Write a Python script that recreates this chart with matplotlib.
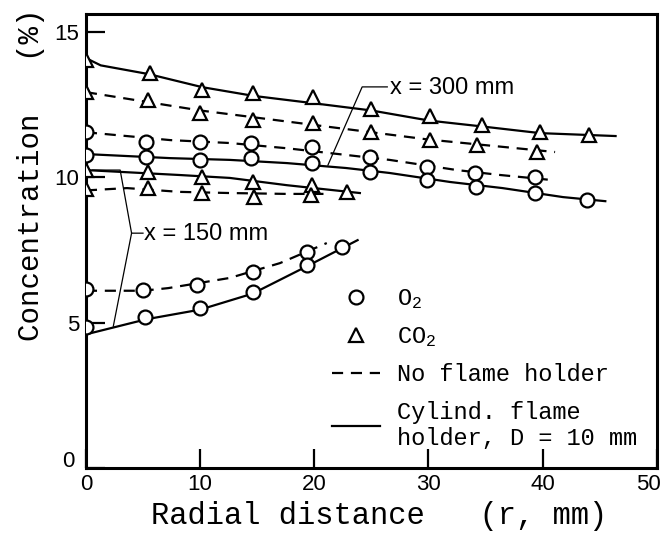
# Radial concentration profiles (O2 / CO2) with and without flame holder

import matplotlib
matplotlib.use( 'Agg' )
import matplotlib.pyplot as plt
import matplotlib.transforms as mtransforms
from matplotlib.lines import Line2D

# Data #
## CO2, cylindrical flame holder, upper ##
co2_cyl_a_r = [ 0, 5.6, 10.2, 14.6, 19.9, 25.0, 30.1, 34.7, 39.8, 44.1 ]
co2_cyl_a_c = [ 14.05, 13.6, 13.0, 12.9, 12.75, 12.35, 12.1, 11.8, 11.55, 11.45 ]
co2_cyl_a_line_r = [ 0, 1.3, 5.5, 10.2, 14.7, 19.9, 25.0, 30.1, 34.7, 39.8, 46.4 ]
co2_cyl_a_line_c = [ 14.1, 13.85, 13.55, 13.1, 12.8, 12.55, 12.3, 11.95, 11.75, 11.52, 11.42 ]

## CO2, no flame holder, upper ##
co2_nofh_a_r = [ 0, 5.4, 10.0, 14.6, 19.9, 25.0, 30.1, 34.3, 39.5 ]
co2_nofh_a_c = [ 12.93, 12.66, 12.21, 11.97, 11.87, 11.56, 11.28, 11.11, 10.87 ]
co2_nofh_a_line_r = [ 0, 10, 20, 30, 41.1 ]
co2_nofh_a_line_c = [ 12.93, 12.3, 11.8, 11.3, 10.87 ]

## O2, no flame holder, upper ##
o2_nofh_a_r = [ 0, 5.3, 10.0, 14.5, 19.8, 24.9, 29.9, 34.1, 39.3 ]
o2_nofh_a_c = [ 11.56, 11.21, 11.21, 11.18, 11.04, 10.7, 10.35, 10.15, 10.01 ]
o2_nofh_a_line_r = [ 0, 7.4, 12.6, 17.6, 22.8, 26.6, 32.5, 36.3, 41.0 ]
o2_nofh_a_line_c = [ 11.55, 11.28, 11.18, 11.0, 10.77, 10.6, 10.25, 10.08, 9.9 ]

## O2, cylindrical flame holder, upper ##
o2_cyl_a_r = [ 0, 5.3, 10.0, 14.5, 19.8, 24.9, 29.9, 34.2, 39.3, 43.9 ]
o2_cyl_a_c = [ 10.77, 10.7, 10.6, 10.66, 10.49, 10.18, 9.91, 9.67, 9.46, 9.22 ]
o2_cyl_a_line_r = [ 0, 7.4, 12.6, 17.6, 22.8, 26.6, 31.9, 36.5, 41.8, 45.5 ]
o2_cyl_a_line_c = [ 10.8, 10.66, 10.6, 10.49, 10.32, 10.15, 9.84, 9.63, 9.32, 9.18 ]

## CO2, cylindrical flame holder, lower ##
co2_cyl_b_r = [ 0, 5.4, 10.2, 14.6, 19.8, 22.9 ]
co2_cyl_b_c = [ 10.25, 10.18, 10.01, 9.84, 9.73, 9.49 ]
co2_cyl_b_line_r = [ 0, 8.2, 12.6, 17.6, 24.0 ]
co2_cyl_b_line_c = [ 10.25, 10.08, 9.98, 9.73, 9.46 ]

## CO2, no flame holder, lower ##
co2_nofh_b_r = [ 0, 5.4, 10.2, 14.7, 19.7 ]
co2_nofh_b_c = [ 9.6, 9.63, 9.46, 9.32, 9.39 ]
co2_nofh_b_line_r = [ 0, 3.6, 8.2, 12.6, 17.6, 21.0 ]
co2_nofh_b_line_c = [ 9.55, 9.63, 9.5, 9.46, 9.43, 9.43 ]

## O2, no flame holder, lower ##
o2_nofh_b_r = [ 0, 5.0, 9.7, 14.6, 19.4 ]
o2_nofh_b_c = [ 6.15, 6.12, 6.3, 6.74, 7.43 ]
o2_nofh_b_line_r = [ 0, 5.0, 7.2, 12.6, 17.0, 21.1 ]
o2_nofh_b_line_c = [ 6.1, 6.1, 6.19, 6.54, 7.05, 7.74 ]

## O2, cylindrical flame holder, lower ##
o2_cyl_b_r = [ 0, 5.2, 10.0, 14.6, 19.4, 22.4 ]
o2_cyl_b_c = [ 4.85, 5.19, 5.5, 6.05, 6.98, 7.6 ]
o2_cyl_b_line_r = [ 0, 5.3, 10.0, 14.6, 19.4, 23.8 ]
o2_cyl_b_line_c = [ 4.6, 5.12, 5.45, 6.0, 6.95, 7.84 ]

## Bracket annotations ##
bracket_300_r = [ 26.4, 24.2, 21.2 ]
bracket_300_c = [ 13.11, 13.11, 10.42 ]
bracket_150_up_r = [ 5.0, 4.0, 3.0, 0.6 ]
bracket_150_up_c = [ 8.08, 8.08, 10.25, 10.25 ]
bracket_150_dn_r = [ 4.0, 2.4 ]
bracket_150_dn_c = [ 8.08, 4.88 ]

x_ticks = [ 0, 10, 20, 30, 40, 50 ]
y_ticks = [ 0, 5, 10, 15 ]

# Style #
MONO = 'Liberation Mono'
SANS = 'Liberation Sans'
plt.rcParams[ 'mathtext.fontset' ] = 'custom'
plt.rcParams[ 'mathtext.rm' ] = MONO
plt.rcParams[ 'mathtext.it' ] = MONO

solid = '-'
dashed = ( 0, ( 5, 3.5 ) )
lw = 1.6
ms = 10
mew = 1.6

fig = plt.figure( figsize = ( 6.66, 5.35 ), dpi = 100 )
ax = fig.add_axes( [ 0.129, 0.125, 0.857, 0.849 ] )

series = [
	( co2_cyl_a_r, co2_cyl_a_c, co2_cyl_a_line_r, co2_cyl_a_line_c, '^', solid ),
	( co2_nofh_a_r, co2_nofh_a_c, co2_nofh_a_line_r, co2_nofh_a_line_c, '^', dashed ),
	( o2_nofh_a_r, o2_nofh_a_c, o2_nofh_a_line_r, o2_nofh_a_line_c, 'o', dashed ),
	( o2_cyl_a_r, o2_cyl_a_c, o2_cyl_a_line_r, o2_cyl_a_line_c, 'o', solid ),
	( co2_cyl_b_r, co2_cyl_b_c, co2_cyl_b_line_r, co2_cyl_b_line_c, '^', solid ),
	( co2_nofh_b_r, co2_nofh_b_c, co2_nofh_b_line_r, co2_nofh_b_line_c, '^', dashed ),
	( o2_nofh_b_r, o2_nofh_b_c, o2_nofh_b_line_r, o2_nofh_b_line_c, 'o', dashed ),
	( o2_cyl_b_r, o2_cyl_b_c, o2_cyl_b_line_r, o2_cyl_b_line_c, 'o', solid ),
]

for r, c, lr, lc, mk, ls in series:
	ax.plot( lr, lc, color = 'black', lw = lw, linestyle = ls, zorder = 2 )
	ax.plot( r, c, linestyle = 'none', marker = mk, ms = ms, mew = mew,
		mfc = 'white', mec = 'black', zorder = 3 )

## Brackets ##
for br, bc in [ ( bracket_300_r, bracket_300_c ), ( bracket_150_up_r, bracket_150_up_c ),
		( bracket_150_dn_r, bracket_150_dn_c ) ]:
	ax.plot( br, bc, color = 'black', lw = 0.9, zorder = 1 )

ax.text( 26.6, 13.08, 'x = 300 mm', family = SANS, fontsize = 17, ha = 'left', va = 'center' )
ax.text( 5.1, 8.05, 'x = 150 mm', family = SANS, fontsize = 17, ha = 'left', va = 'center' )

## Axes ##
ax.set_xlim( 0, 50 )
ax.set_ylim( 0, 15.62 )
ax.set_xticks( x_ticks )
ax.set_yticks( y_ticks )
ax.set_xticklabels( [ str( t ) for t in x_ticks ], family = SANS, fontsize = 16 )
ax.set_yticklabels( [ str( t ) for t in y_ticks ], family = SANS, fontsize = 16 )
ax.tick_params( axis = 'x', direction = 'in', length = 14, width = 1.6, pad = 4 )
ax.tick_params( axis = 'y', direction = 'in', length = 14, width = 1.6, pad = 5 )
for sp in ax.spines.values():
	sp.set_linewidth( 2.2 )

# pull the "50" label inside the figure, lift the y "0" label a little
last_x = ax.get_xticklabels()[ -1 ]
last_x.set_transform( last_x.get_transform() + mtransforms.ScaledTranslation( -8 / 100, 0, fig.dpi_scale_trans ) )
first_y = ax.get_yticklabels()[ 0 ]
first_y.set_transform( first_y.get_transform() + mtransforms.ScaledTranslation( -4 / 100, 9 / 100, fig.dpi_scale_trans ) )

ax.set_xlabel( 'Radial distance   (r, mm)', family = MONO, fontsize = 22 )
ax.xaxis.set_label_coords( 0.513, -0.072 )
ax.set_ylabel( 'Concentration   (%)', family = MONO, fontsize = 21 )
ax.yaxis.set_label_coords( -0.072, 0.645 )

## Legend ##
handles = [
	Line2D( [ ], [ ], linestyle = 'none', marker = 'o', ms = ms, mew = mew, mfc = 'white', mec = 'black' ),
	Line2D( [ ], [ ], linestyle = 'none', marker = '^', ms = ms, mew = mew, mfc = 'white', mec = 'black' ),
	Line2D( [ ], [ ], color = 'black', lw = lw, linestyle = dashed ),
	Line2D( [ ], [ ], color = 'black', lw = lw, linestyle = solid ),
]
labels = [ 'O$_2$', 'CO$_2$', 'No flame holder', 'Cylind. flame\nholder, D = 10 mm' ]
ax.legend( handles, labels, loc = 'upper left', bbox_to_anchor = ( 0.432, 0.398 ),
	frameon = False, prop = { 'family': MONO, 'size': 17 }, borderpad = 0, borderaxespad = 0,
	handlelength = 2.0, handletextpad = 0.75, labelspacing = 0.6 )

plt.savefig( 'out.png', dpi = 100 )
